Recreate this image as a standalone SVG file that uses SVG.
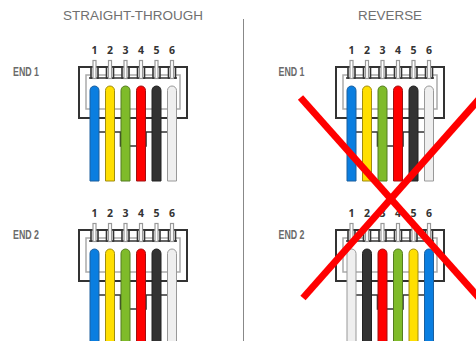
<svg xmlns="http://www.w3.org/2000/svg" xmlns:xlink="http://www.w3.org/1999/xlink" width="476" height="341" viewBox="0 0 476 341">
  <style>
    .title { font-family: "Liberation Sans", Arial, sans-serif; font-size: 13.4px; fill: #707070; text-anchor: middle; }
    .end { font-family: "Liberation Sans", Arial, sans-serif; font-size: 12.5px; font-weight: bold; fill: #6a6a6a; }
    .num { font-family: "Open Sans", "DejaVu Sans", sans-serif; font-size: 10.5px; font-weight: bold; fill: #333; text-anchor: middle; }
    .shell { fill: #fff; stroke: #333; stroke-width: 2; }
    .inner { fill: none; stroke: #aaa; stroke-width: 1.5; }
    .dark { fill: none; stroke: #333; stroke-width: 1.6; }
    .contact { fill: #fff; stroke: #333; stroke-width: 1.6; }
    .pin { fill: #fff; stroke: #999; stroke-width: 1.2; }
    .w { stroke-width: 1; }
    .blue { fill: #0a7ee0; stroke: #1b5f9e; }
    .yellow { fill: #ffdf00; stroke: #a08c10; }
    .green { fill: #7fbb2a; stroke: #557d20; }
    .red { fill: #ff0000; stroke: #a01010; }
    .black { fill: #333; stroke: #222; }
    .white { fill: #efefef; stroke: #999; }
    .divider { stroke: #888; stroke-width: 1; }
    .cross { stroke: #ff0000; stroke-width: 7; stroke-linecap: butt; }
  </style>
  <defs>
    <!-- RJ plug housing with pins and latch, wire centres at 94.5 + 15.5*n -->
    <g id="housing">
      <rect class="shell" x="79" y="67" width="108" height="51"/>
      <rect class="inner" x="86" y="75" width="94" height="34"/>
      <line class="dark" x1="89" y1="78" x2="177" y2="78"/>
      <rect class="contact" x="91" y="67" width="7" height="11"/>
      <rect class="contact" x="106.5" y="67" width="7" height="11"/>
      <rect class="contact" x="122" y="67" width="7" height="11"/>
      <rect class="contact" x="137.5" y="67" width="7" height="11"/>
      <rect class="contact" x="153" y="67" width="7" height="11"/>
      <rect class="contact" x="168.5" y="67" width="7" height="11"/>
      <rect class="pin" x="93" y="60.5" width="3" height="18"/>
      <rect class="pin" x="108.5" y="60.5" width="3" height="18"/>
      <rect class="pin" x="124" y="60.5" width="3" height="18"/>
      <rect class="pin" x="139.5" y="60.5" width="3" height="18"/>
      <rect class="pin" x="155" y="60.5" width="3" height="18"/>
      <rect class="pin" x="170.5" y="60.5" width="3" height="18"/>
      <path class="dark" d="M94 132 H120.5 V146 H146 V132 H172"/>
      <text class="num" x="94.5" y="54">1</text>
      <text class="num" x="110" y="54">2</text>
      <text class="num" x="125.5" y="54">3</text>
      <text class="num" x="141" y="54">4</text>
      <text class="num" x="156.5" y="54">5</text>
      <text class="num" x="172" y="54">6</text>
    </g>
    <path id="w1" d="M90 181 V90.5 A4.5 4.5 0 0 1 99 90.5 V181 Z"/>
    <path id="w2" d="M105.5 181 V90.5 A4.5 4.5 0 0 1 114.5 90.5 V181 Z"/>
    <path id="w3" d="M121 181 V90.5 A4.5 4.5 0 0 1 130 90.5 V181 Z"/>
    <path id="w4" d="M136.5 181 V90.5 A4.5 4.5 0 0 1 145.5 90.5 V181 Z"/>
    <path id="w5" d="M152 181 V90.5 A4.5 4.5 0 0 1 161 90.5 V181 Z"/>
    <path id="w6" d="M167.5 181 V90.5 A4.5 4.5 0 0 1 176.5 90.5 V181 Z"/>
  </defs>

  <text class="title" x="133" y="20" textLength="140" lengthAdjust="spacingAndGlyphs">STRAIGHT-THROUGH</text>
  <text class="title" x="390" y="20" textLength="64" lengthAdjust="spacingAndGlyphs">REVERSE</text>
  <line class="divider" x1="243.5" y1="19" x2="243.5" y2="341"/>

  <!-- straight-through, end 1 -->
  <g id="straight-end1">
    <text class="end" x="13" y="76" textLength="26" lengthAdjust="spacingAndGlyphs">END 1</text>
    <use xlink:href="#housing"/>
    <use xlink:href="#w1" class="w blue"/>
    <use xlink:href="#w2" class="w yellow"/>
    <use xlink:href="#w3" class="w green"/>
    <use xlink:href="#w4" class="w red"/>
    <use xlink:href="#w5" class="w black"/>
    <use xlink:href="#w6" class="w white"/>
  </g>

  <!-- straight-through, end 2 -->
  <g id="straight-end2">
    <text class="end" x="13" y="239" textLength="26" lengthAdjust="spacingAndGlyphs">END 2</text>
    <g transform="translate(0,163)">
      <use xlink:href="#housing"/>
      <use xlink:href="#w1" class="w blue"/>
      <use xlink:href="#w2" class="w yellow"/>
      <use xlink:href="#w3" class="w green"/>
      <use xlink:href="#w4" class="w red"/>
      <use xlink:href="#w5" class="w black"/>
      <use xlink:href="#w6" class="w white"/>
    </g>
  </g>

  <!-- reverse, end 1 -->
  <g id="reverse-end1">
    <text class="end" x="278.5" y="76" textLength="26" lengthAdjust="spacingAndGlyphs">END 1</text>
    <g transform="translate(257,0)">
      <use xlink:href="#housing"/>
      <use xlink:href="#w1" class="w blue"/>
      <use xlink:href="#w2" class="w yellow"/>
      <use xlink:href="#w3" class="w green"/>
      <use xlink:href="#w4" class="w red"/>
      <use xlink:href="#w5" class="w black"/>
      <use xlink:href="#w6" class="w white"/>
    </g>
  </g>

  <!-- reverse, end 2 -->
  <g id="reverse-end2">
    <text class="end" x="278.5" y="239" textLength="26" lengthAdjust="spacingAndGlyphs">END 2</text>
    <g transform="translate(257,163)">
      <use xlink:href="#housing"/>
      <use xlink:href="#w1" class="w white"/>
      <use xlink:href="#w2" class="w black"/>
      <use xlink:href="#w3" class="w red"/>
      <use xlink:href="#w4" class="w green"/>
      <use xlink:href="#w5" class="w yellow"/>
      <use xlink:href="#w6" class="w blue"/>
    </g>
  </g>

  <!-- red cross over the reverse wiring -->
  <g id="connectors">
    <line class="cross" x1="300.5" y1="97.5" x2="481" y2="300"/>
    <line class="cross" x1="481" y1="97" x2="303" y2="298"/>
  </g>
</svg>
